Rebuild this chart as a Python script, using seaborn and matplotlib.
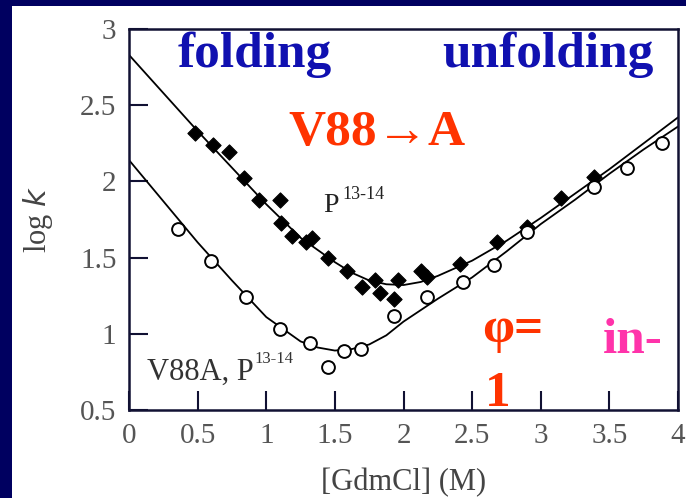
import matplotlib
matplotlib.use("Agg")
import matplotlib.pyplot as plt
from matplotlib.patches import Rectangle
import seaborn as sns
import pandas as pd

# ---- data ----
p_x = [0.48, 0.61, 0.73, 0.84, 0.95, 1.10, 1.11, 1.19, 1.29, 1.33, 1.45, 1.59,
       1.70, 1.79, 1.83, 1.96, 1.93, 2.13, 2.17, 2.41, 2.68, 2.90, 3.15, 3.39]
p_y = [2.32, 2.24, 2.19, 2.02, 1.88, 1.88, 1.73, 1.64, 1.60, 1.63, 1.50, 1.41,
       1.31, 1.35, 1.27, 1.35, 1.23, 1.41, 1.37, 1.46, 1.60, 1.70, 1.89, 2.03]

v_x = [0.36, 0.60, 0.85, 1.10, 1.32, 1.45, 1.57, 1.69, 1.93, 2.17, 2.43, 2.66,
       2.90, 3.39, 3.63, 3.88]
v_y = [1.69, 1.48, 1.24, 1.03, 0.94, 0.78, 0.89, 0.90, 1.12, 1.24, 1.34, 1.45,
       1.67, 1.96, 2.09, 2.25]

p_fit_x = [0.0, 0.25, 0.5, 0.75, 1.0, 1.25, 1.5, 1.625, 1.75, 1.875, 2.0, 2.125,
           2.25, 2.5, 2.75, 3.0, 3.25, 3.5, 3.75, 4.0]
p_fit = [2.83, 2.58, 2.33, 2.09, 1.85, 1.63, 1.47, 1.40, 1.35, 1.325, 1.32, 1.34,
         1.38, 1.48, 1.61, 1.76, 1.92, 2.08, 2.25, 2.42]
v_fit_x = [0.0, 0.25, 0.5, 0.75, 1.0, 1.125, 1.25, 1.375, 1.5, 1.625, 1.75, 1.875,
           2.0, 2.25, 2.5, 2.75, 3.0, 3.25, 3.5, 3.75, 4.0]
v_fit = [2.14, 1.87, 1.60, 1.35, 1.11, 1.03, 0.95, 0.91, 0.89, 0.90, 0.93, 0.99,
         1.08, 1.23, 1.37, 1.54, 1.72, 1.88, 2.05, 2.21, 2.36]

x_ticks = [0, 0.5, 1, 1.5, 2, 2.5, 3, 3.5, 4]
x_tick_labels = ["0", "0.5", "1", "1.5", "2", "2.5", "3", "3.5", "4"]
y_ticks = [0.5, 1, 1.5, 2, 2.5, 3]
y_tick_labels = ["0.5", "1", "1.5", "2", "2.5", "3"]

# ---- style ----
sns.set_style("ticks")
plt.rcParams["font.family"] = ["Liberation Serif", "DejaVu Serif"]

W, H = 686, 498
fig = plt.figure(figsize=(W / 100, H / 100), dpi=100, facecolor="#000060")
fig.add_artist(Rectangle((12 / W, 0), 1, 1 - 6 / H, transform=fig.transFigure,
                         facecolor="white", edgecolor="none", zorder=-10))

ax = fig.add_axes([129 / W, 88 / H, 549 / W, 381 / H])
ax.set_facecolor("white")

sns.lineplot(x=p_fit_x, y=p_fit, ax=ax, color="black", lw=1.3)
sns.lineplot(x=v_fit_x, y=v_fit, ax=ax, color="black", lw=1.3)

df_p = pd.DataFrame({"x": p_x, "y": p_y})
df_v = pd.DataFrame({"x": v_x, "y": v_y})
sns.scatterplot(data=df_p, x="x", y="y", ax=ax, marker="D", s=60,
                color="black", edgecolor="black", linewidth=0.8, zorder=3)
sns.scatterplot(data=df_v, x="x", y="y", ax=ax, marker="o", s=85,
                facecolor="white", edgecolor="black", linewidth=1.4, zorder=3)

ax.set_xlim(0, 4)
ax.set_ylim(0.5, 3)
ax.set_xticks(x_ticks)
ax.set_xticklabels(x_tick_labels)
ax.set_yticks(y_ticks)
ax.set_yticklabels(y_tick_labels)

for s in ax.spines.values():
    s.set_visible(True)
    s.set_color("#111133")
    s.set_linewidth(1.8)

ax.tick_params(axis="both", direction="in", length=14, width=1.5, color="#111133")
ax.tick_params(axis="both", labelsize=21, labelcolor="#555555", pad=9)

ax.set_xlabel("[GdmCl] (M)", fontsize=22, color="#444444", labelpad=14)
ax.set_ylabel(r"log $\it{k}$", fontsize=22, color="#444444", labelpad=18)

def ftext(px, py, s, **kw):
    fig.text(px / W, 1 - py / H, s, va="baseline", ha="left", zorder=5, **kw)

navy = "#1010b0"
red = "#ff3300"
pink = "#ff33aa"
big = 37
ftext(178, 67, "folding", fontsize=big, fontweight="bold", color=navy)
ftext(442, 67, "unfolding", fontsize=big, fontweight="bold", color=navy)
ftext(288, 145, "V88\u2192A", fontsize=big, fontweight="bold", color=red)
ftext(482, 342, "\u03c6=", fontsize=big, fontweight="bold", color=red)
ftext(485, 406, "1", fontsize=big, fontweight="bold", color=red)
ftext(603, 353, "in-", fontsize=big, fontweight="bold", color=pink)

ftext(323, 212, "P", fontsize=20, color="#222222")
ftext(342, 199, "13-14", fontsize=13, color="#222222")
ftext(147, 380, "V88A, P", fontsize=22, color="#333333")
ftext(254, 363, "13-14", fontsize=12, color="#333333")

fig.savefig("out.png", dpi=100, facecolor=fig.get_facecolor())
